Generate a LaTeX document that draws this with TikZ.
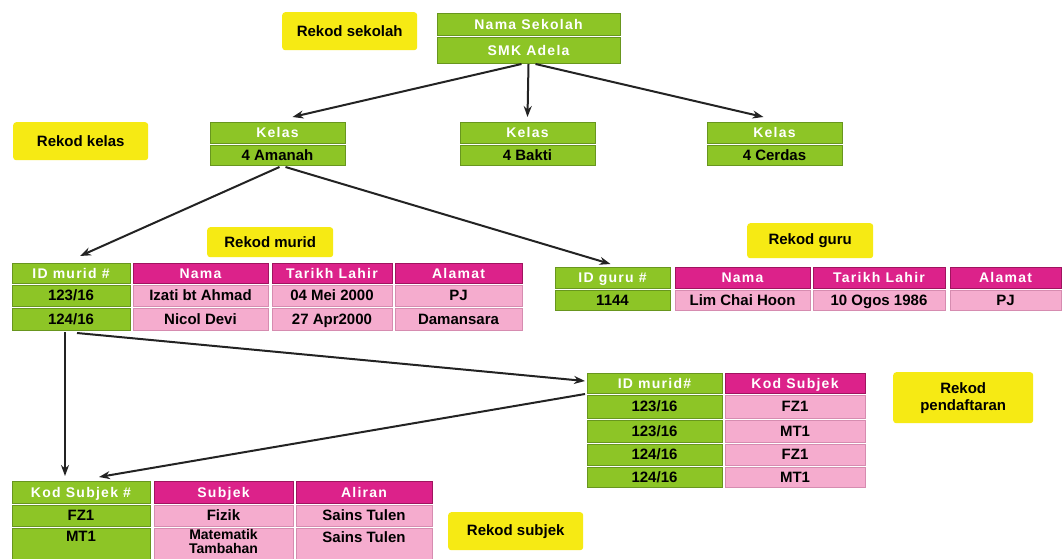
\documentclass[tikz,border=0pt]{standalone}
\usepackage{fontspec}
\setmainfont{Liberation Sans}
\newfontfamily\hdrfont[LetterSpace=9]{Liberation Sans}
\usetikzlibrary{arrows.meta,calc}

\definecolor{limegreen}{RGB}{141,197,38}
\definecolor{limeedge}{RGB}{104,150,30}
\definecolor{magentahdr}{RGB}{220,34,138}
\definecolor{magentaedge}{RGB}{160,20,95}
\definecolor{pinkcell}{RGB}{245,172,206}
\definecolor{pinkedge}{RGB}{214,140,176}
\definecolor{notefill}{RGB}{246,234,20}
\definecolor{linkcol}{RGB}{35,35,35}

\tikzset{
  cellbase/.style={anchor=north west, inner sep=0pt, outer sep=0pt, line width=0.6pt, align=center,
    text height=10.5pt, text depth=0.5pt, font=\fontsize{15}{16}\selectfont\bfseries},
  ghdr/.style={cellbase, fill=limegreen, draw=limeedge, text=white, font=\hdrfont\fontsize{14}{15}\selectfont\bfseries},
  gcell/.style={cellbase, fill=limegreen, draw=limeedge, text=black},
  mhdr/.style={cellbase, fill=magentahdr, draw=magentaedge, text=white, font=\hdrfont\fontsize{14}{15}\selectfont\bfseries},
  pcell/.style={cellbase, fill=pinkcell, draw=pinkedge, text=black},
  note/.style={anchor=north west, inner sep=0pt, fill=notefill, rounded corners=3pt, align=center,
    font=\fontsize{15}{17}\selectfont\bfseries},
  link/.style={draw=linkcol, line width=2pt, -{Stealth[length=11pt,width=8pt]}}
}

\begin{document}
\begin{tikzpicture}[x=1pt,y=-1pt]
\useasboundingbox (0,0) rectangle (1063,558);
\fill[white] (0,0) rectangle (1063,558);
\clip (0,0) rectangle (1063,558);

% ---------- school record ----------
\node[note, minimum width=135pt, minimum height=38pt] (nsek) at (282,12) {Rekod sekolah};
\node[ghdr, minimum width=183pt, minimum height=22pt] (sch1) at (437,13) {Nama Sekolah};
\node[ghdr, minimum width=183pt, minimum height=26pt] (sch2) at (437,37) {SMK Adela};

% ---------- class records ----------
\node[note, minimum width=135pt, minimum height=38pt] (nkel) at (13,122) {Rekod kelas};
\node[ghdr, minimum width=135pt, minimum height=21pt] (am1) at (210,122) {Kelas};
\node[gcell, minimum width=135pt, minimum height=20pt] (am2) at (210,145) {4 Amanah};
\node[ghdr, minimum width=135pt, minimum height=21pt] (bk1) at (460,122) {Kelas};
\node[gcell, minimum width=135pt, minimum height=20pt] (bk2) at (460,145) {4 Bakti};
\node[ghdr, minimum width=135pt, minimum height=21pt] (cd1) at (707,122) {Kelas};
\node[gcell, minimum width=135pt, minimum height=20pt] (cd2) at (707,145) {4 Cerdas};

% ---------- student record ----------
\node[note, minimum width=126pt, minimum height=30pt] (nmur) at (207,227) {Rekod murid};
\node[ghdr, minimum width=118pt, minimum height=20pt] (mu-h1) at (12,263) {ID murid \#};
\node[mhdr, minimum width=135pt, minimum height=20pt] (mu-h2) at (133,263) {Nama};
\node[mhdr, minimum width=120pt, minimum height=20pt] (mu-h3) at (272,263) {Tarikh Lahir};
\node[mhdr, minimum width=127pt, minimum height=20pt] (mu-h4) at (395,263) {Alamat};
\node[gcell, minimum width=118pt, minimum height=21pt] (mu-a1) at (12,285) {123/16};
\node[pcell, minimum width=135pt, minimum height=21pt] (mu-a2) at (133,285) {Izati bt Ahmad};
\node[pcell, minimum width=120pt, minimum height=21pt] (mu-a3) at (272,285) {04 Mei 2000};
\node[pcell, minimum width=127pt, minimum height=21pt] (mu-a4) at (395,285) {PJ};
\node[gcell, minimum width=118pt, minimum height=22pt] (mu-b1) at (12,308) {124/16};
\node[pcell, minimum width=135pt, minimum height=22pt] (mu-b2) at (133,308) {Nicol Devi};
\node[pcell, minimum width=120pt, minimum height=22pt] (mu-b3) at (272,308) {27 Apr2000};
\node[pcell, minimum width=127pt, minimum height=22pt] (mu-b4) at (395,308) {Damansara};

% ---------- teacher record ----------
\node[note, minimum width=126pt, minimum height=35pt] (ngur) at (747,223) {Rekod guru};
\node[ghdr, minimum width=115pt, minimum height=21pt] (gu-h1) at (555,267) {ID guru \#};
\node[mhdr, minimum width=135pt, minimum height=21pt] (gu-h2) at (675,267) {Nama};
\node[mhdr, minimum width=132pt, minimum height=21pt] (gu-h3) at (813,267) {Tarikh Lahir};
\node[mhdr, minimum width=111pt, minimum height=21pt] (gu-h4) at (950,267) {Alamat};
\node[gcell, minimum width=115pt, minimum height=20pt] (gu-a1) at (555,290) {1144};
\node[pcell, minimum width=135pt, minimum height=20pt] (gu-a2) at (675,290) {Lim Chai Hoon};
\node[pcell, minimum width=132pt, minimum height=20pt] (gu-a3) at (813,290) {10 Ogos 1986};
\node[pcell, minimum width=111pt, minimum height=20pt] (gu-a4) at (950,290) {PJ};

% ---------- registration record ----------
\node[note, minimum width=140pt, minimum height=51pt] (npen) at (893,372) {Rekod\\pendaftaran};
\node[ghdr, minimum width=135pt, minimum height=20pt] (pd-h1) at (587,373) {ID murid\#};
\node[mhdr, minimum width=140pt, minimum height=20pt] (pd-h2) at (725,373) {Kod Subjek};
\node[gcell, minimum width=135pt, minimum height=23pt] (pd-a1) at (587,395) {123/16};
\node[pcell, minimum width=140pt, minimum height=23pt] (pd-a2) at (725,395) {FZ1};
\node[gcell, minimum width=135pt, minimum height=22pt] (pd-b1) at (587,420) {123/16};
\node[pcell, minimum width=140pt, minimum height=22pt] (pd-b2) at (725,420) {MT1};
\node[gcell, minimum width=135pt, minimum height=21pt] (pd-c1) at (587,444) {124/16};
\node[pcell, minimum width=140pt, minimum height=21pt] (pd-c2) at (725,444) {FZ1};
\node[gcell, minimum width=135pt, minimum height=20pt] (pd-d1) at (587,467) {124/16};
\node[pcell, minimum width=140pt, minimum height=20pt] (pd-d2) at (725,467) {MT1};

% ---------- subject record ----------
\node[note, minimum width=135pt, minimum height=38pt] (nsub) at (448,512) {Rekod subjek};
\node[ghdr, minimum width=138pt, minimum height=22pt] (sb-h1) at (12,481) {Kod Subjek \#};
\node[mhdr, minimum width=139pt, minimum height=22pt] (sb-h2) at (154,481) {Subjek};
\node[mhdr, minimum width=136pt, minimum height=22pt] (sb-h3) at (296,481) {Aliran};
\node[gcell, minimum width=138pt, minimum height=21pt] (sb-a1) at (12,505) {FZ1};
\node[pcell, minimum width=139pt, minimum height=21pt] (sb-a2) at (154,505) {Fizik};
\node[pcell, minimum width=136pt, minimum height=21pt] (sb-a3) at (296,505) {Sains Tulen};
\node[gcell, minimum width=138pt, minimum height=44pt] (sb-b1) at (12,528) {};
\node[pcell, minimum width=139pt, minimum height=44pt] (sb-b2) at (154,528) {};
\node[pcell, minimum width=136pt, minimum height=44pt] (sb-b3) at (296,528) {};
\node[anchor=north, inner sep=0pt, font=\fontsize{15}{16}\selectfont\bfseries] (sb-b1t) at (sb-b1.north) [yshift=-3pt] {MT1};
\node[anchor=north, inner sep=0pt, align=center, font=\fontsize{14}{14}\selectfont\bfseries] (sb-b2t) at (sb-b2.north) [yshift=-1pt] {Matematik\\Tambahan};
\node[anchor=north, inner sep=0pt, font=\fontsize{15}{16}\selectfont\bfseries] (sb-b3t) at (sb-b3.north) [yshift=-3pt] {Sains Tulen};

% ---------- connectors ----------
\draw[link] ([xshift=-7pt,yshift=-1pt]sch2.south) -- ([xshift=15pt,yshift=5pt]am1.north);
\draw[link] ([yshift=-1pt]sch2.south) -- ([yshift=5pt]bk1.north);
\draw[link] ([xshift=7pt,yshift=-1pt]sch2.south) -- ([xshift=-11pt,yshift=5pt]cd1.north);
\draw[link] ([xshift=2pt,yshift=-2pt]am2.south) -- ([xshift=9pt,yshift=7pt]mu-h1.north);
\draw[link] ([xshift=8pt,yshift=-2pt]am2.south) -- ([xshift=-2pt,yshift=3pt]gu-h1.north);
\draw[link] ([xshift=-6pt,yshift=-2pt]mu-b1.south) -- ([xshift=-16pt,yshift=5pt]sb-h1.north);
\draw[link] ([xshift=6pt,yshift=-3pt]mu-b1.south) -- ([xshift=-2pt,yshift=2pt]pd-h1.west);
\draw[link] ([xshift=-2pt,yshift=-1pt]pd-h1.south west) -- ([xshift=18pt,yshift=4pt]sb-h1.north);
\end{tikzpicture}
\end{document}
